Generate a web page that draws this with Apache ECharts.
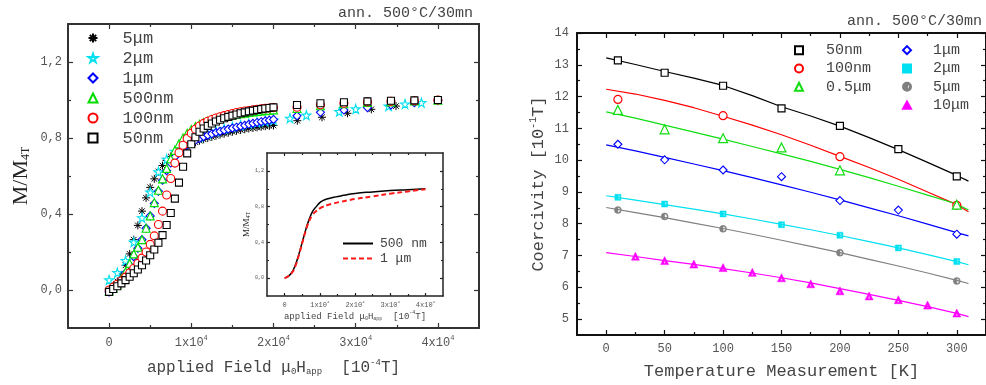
<!DOCTYPE html>
<html><head><meta charset="utf-8">
<script src="https://cdn.jsdelivr.net/npm/echarts@6/dist/echarts.min.js"></script>
<style>html,body{margin:0;padding:0;background:#fff}#c{width:986px;height:385px}</style>
</head><body><div id="c"></div>
<script>
// ================= LEFT PANEL: M/M4T vs applied field =================
const fieldDense = [0,500,1000,1500,2000,2500,3000,3500,4000,4500,5000,5500,6000,6500,7000,7500,8000,8500,9000,9500,10000,10500,11000,11500,12000,12500,13000,13500,14000,14500,15000,15500,16000,16500,17000,17500,18000,18500,19000,19500,20000];
const field1k = [0,1000,2000,3000,4000,5000,6000,7000,8000,9000,10000,11000,12000,13000,14000,15000,16000,17000,18000,19000,20000];
const fieldTail = [22860,25710,28570,31430,34290,37140,40000];
const field2umTail = [22000,24000,28000,30000,34000,36000,38000];
const field5umTail = [22900,25900,29000,31900,34900];

const m5um = [0.00,0.02,0.045,0.08,0.13,0.19,0.265,0.34,0.415,0.485,0.54,0.585,0.623,0.655,0.682,0.703,0.72,0.735,0.748,0.759,0.769,0.778,0.786,0.793,0.80,0.806,0.812,0.818,0.823,0.828,0.833,0.838,0.842,0.846,0.85,0.853,0.856,0.859,0.862,0.864,0.866];
const m5umTail = [0.891,0.909,0.93,0.951,0.968];
const m2um = [0.053,0.091,0.155,0.252,0.38,0.515,0.622,0.688,0.73,0.762,0.787,0.806,0.822,0.836,0.848,0.858,0.867,0.875,0.882,0.888,0.894];
const m2umTail = [0.904,0.92,0.939,0.953,0.968,0.979,0.986];
const m1um = [-0.01,0.005,0.025,0.055,0.09,0.13,0.175,0.22,0.265,0.325,0.39,0.455,0.52,0.578,0.628,0.668,0.70,0.725,0.745,0.762,0.776,0.788,0.798,0.807,0.815,0.822,0.829,0.835,0.841,0.847,0.852,0.857,0.862,0.867,0.872,0.877,0.882,0.886,0.89,0.894,0.898];
const m1umTail = [0.917,0.935,0.947,0.96,0.974,0.986,0.996];
const m500nm = [-0.005,0.01,0.03,0.06,0.095,0.14,0.19,0.225,0.265,0.325,0.39,0.46,0.525,0.585,0.64,0.69,0.735,0.77,0.80,0.825,0.845,0.86,0.872,0.882,0.89,0.897,0.903,0.908,0.913,0.917,0.921,0.925,0.928,0.931,0.934,0.937,0.94,0.942,0.944,0.946,0.948];
const m500nmTail = [0.955,0.97,0.98,0.987,0.99,0.995,0.999];
const m100nm = [0.0,0.015,0.03,0.048,0.068,0.09,0.113,0.14,0.168,0.20,0.24,0.285,0.345,0.415,0.50,0.587,0.668,0.722,0.762,0.797,0.825,0.846,0.863,0.877,0.888,0.897,0.905,0.912,0.918,0.924,0.929,0.934,0.938,0.942,0.945,0.948,0.951,0.954,0.956,0.958,0.96];
const m100nmTail = [0.962,0.975,0.983,0.99,0.993,0.996,1.0];
const m50nm = [-0.01,0.005,0.02,0.035,0.052,0.07,0.088,0.108,0.13,0.155,0.183,0.213,0.249,0.289,0.342,0.405,0.481,0.565,0.649,0.719,0.767,0.804,0.833,0.85,0.864,0.876,0.887,0.896,0.904,0.911,0.918,0.924,0.93,0.935,0.94,0.944,0.948,0.952,0.955,0.958,0.961];
const m50nmTail = [0.974,0.983,0.988,0.993,0.996,0.998,1.0];

// inset curves
const insetField = [0,1000,2000,3000,4000,5000,6000,7000,8000,9000,10000,11000,12000,14000,16000,18000,20000,25000,30000,35000,40000];
const inset500nm = [0,0.02,0.06,0.14,0.26,0.40,0.54,0.66,0.75,0.80,0.845,0.87,0.885,0.905,0.92,0.935,0.948,0.965,0.98,0.99,1.0];
const inset1um = [0,0.02,0.055,0.13,0.25,0.39,0.53,0.64,0.71,0.75,0.78,0.80,0.815,0.837,0.855,0.87,0.885,0.915,0.945,0.97,0.995];

// tick values
const fieldTicks = [0,10000,20000,30000,40000];
const fieldMinorTicks = [5000,15000,25000,35000];
const magTicks = [0,0.4,0.8,1.2];
const magMinorTicks = [0.2,0.6,1.0];

// ================= RIGHT PANEL: coercivity vs temperature =================
const tempA = [10,50,100,150,200,250,300];
const c50nm = [13.14,12.75,12.34,11.63,11.08,10.35,9.49];
const temp100nm = [10,100,200,300];
const c100nm = [11.91,11.40,10.11,8.58];
const temp05um = [10,50,100,150,200,300];
const c05um = [11.58,10.97,10.69,10.40,9.68,8.60];
const c1um = [10.50,10.01,9.69,9.48,8.73,8.43,7.67];
const c2um = [8.83,8.62,8.31,7.97,7.64,7.24,6.81];
const temp5um = [10,50,100,200,300];
const c5um = [8.43,8.23,7.84,7.09,6.20];
const temp10um = [25,50,75,100,125,150,175,200,225,250,275,300];
const c10um = [6.98,6.84,6.73,6.62,6.47,6.30,6.11,5.89,5.73,5.61,5.44,5.19];

const fitTemps = [0,25,50,75,100,125,150,175,200,225,250,275,300,310];
const fit50nm = [13.22,13.01,12.79,12.58,12.35,12.03,11.68,11.39,11.07,10.71,10.33,9.93,9.52,9.34];
const fit100nm = [12.23,12.08,11.88,11.65,11.38,11.10,10.80,10.47,10.12,9.77,9.40,9.00,8.60,8.38];
const fit05um = [11.52,11.32,11.10,10.88,10.66,10.43,10.20,9.96,9.71,9.45,9.18,8.90,8.62,8.43];
const fit1um = [10.48,10.29,10.09,9.88,9.67,9.45,9.22,8.99,8.75,8.50,8.25,7.99,7.72,7.62];
const fit2um = [8.88,8.74,8.60,8.46,8.31,8.15,7.98,7.81,7.63,7.44,7.24,7.03,6.81,6.71];
const fit5um = [8.51,8.35,8.19,8.02,7.85,7.67,7.48,7.29,7.09,6.88,6.67,6.45,6.22,6.12];
const fit10um = [7.09,6.97,6.84,6.72,6.59,6.45,6.30,6.14,5.96,5.78,5.59,5.39,5.18,5.08];

const tempTicks = [0,50,100,150,200,250,300];
const tempMinorTicks = [25,75,125,175,225,275];
const coerTicks = [5,6,7,8,9,10,11,12,13,14];
const coerMinorTicks = [5.5,6.5,7.5,8.5,9.5,10.5,11.5,12.5,13.5];

const annealNote = 'ann. 500°C/30mn';

// ================= build =================
const MONO = 'Liberation Mono';
const SERIF = 'Liberation Serif';
const zip = (xs, ys) => xs.map((x, i) => [x, ys[i]]);

const ASTER = 'path://M0,50 L100,50 M50,0 L50,100 M15,15 L85,85 M85,15 L15,85';
const STAR = 'path://M50,0 L61,35 L98,35 L68,57 L79,91 L50,70 L21,91 L32,57 L2,35 L39,35 Z';
const HALFSQ = 'path://M0,0 H100 V100 H0 Z M55,20 V80 H78 V20 Z';
const HALFCIRC = 'path://M50,0 A50,50 0 1,0 50,100 A50,50 0 1,0 50,0 Z M50,14 A36,36 0 0,1 50,86 Z';
const HOLLOWTRI = 'path://M50,0 L100,90 L0,90 Z M50,38 L38,76 L62,76 Z';

const xAxes = [], yAxes = [];
function addAxes(list, grid, posA, posB, min, max, major, minor, majLen, minLen, color, frameW, label, nameCfg) {
  const base = {type: 'value', gridIndex: grid, min: min, max: max, splitLine: {show: false}};
  const line = show => ({show: show, onZero: false, lineStyle: {color: color, width: frameW}});
  const tick = (vals, len) => ({show: true, inside: true, length: len, customValues: vals, lineStyle: {color: color, width: 1.2}});
  list.push(Object.assign({}, base, {position: posA, axisLine: line(true), axisTick: tick(major, majLen), axisLabel: Object.assign({show: true, customValues: major}, label)}, nameCfg || {}));
  list.push(Object.assign({}, base, {position: posA, axisLine: line(false), axisTick: tick(minor, minLen), axisLabel: {show: false}}));
  list.push(Object.assign({}, base, {position: posB, axisLine: line(true), axisTick: tick(major, majLen), axisLabel: {show: false}}));
  list.push(Object.assign({}, base, {position: posB, axisLine: line(false), axisTick: tick(minor, minLen), axisLabel: {show: false}}));
}

function fieldLabel(size, supSize) {
  return {
    margin: size > 9 ? 7 : 4,
    formatter: v => v === 0 ? '{a|0}' : '{a|' + (v / 1e4) + 'x10}{s|4}',
    rich: {
      a: {fontFamily: MONO, fontSize: size, color: '#555', lineHeight: size + 2, verticalAlign: 'bottom'},
      s: {fontFamily: MONO, fontSize: supSize, color: '#555', lineHeight: supSize, verticalAlign: 'top'}
    }
  };
}
function fieldName(size, subSize, gap) {
  const c = '#444';
  return {
    name: '{t|applied Field μ}{b|0}{t|H}{b|app}{t|  [10}{p|-4}{t|T]}',
    nameLocation: 'middle', nameGap: gap,
    nameTextStyle: {rich: {
      t: {fontFamily: MONO, fontSize: size, color: c, lineHeight: size + 2, verticalAlign: 'bottom'},
      b: {fontFamily: MONO, fontSize: subSize, color: c, lineHeight: subSize * 0.65, verticalAlign: 'bottom'},
      p: {fontFamily: MONO, fontSize: subSize, color: c, lineHeight: subSize * 0.65, verticalAlign: 'top'}
    }}
  };
}
function magName(size, subSize, gap) {
  return {
    name: '{m|M/M}{s|4T}', nameLocation: 'middle', nameGap: gap,
    nameTextStyle: {rich: {
      m: {fontFamily: SERIF, fontSize: size, color: '#222', lineHeight: size + 2, verticalAlign: 'bottom'},
      s: {fontFamily: SERIF, fontSize: subSize, color: '#222', lineHeight: subSize * 0.7, verticalAlign: 'bottom'}
    }}
  };
}
const magLabel = (size, margin) => ({margin: margin, fontFamily: MONO, fontSize: size, color: '#555', formatter: v => v.toFixed(1).replace('.', ',')});

// grid 0: main left
addAxes(xAxes, 0, 'bottom', 'top', -5000, 45000, fieldTicks, fieldMinorTicks, 5, 3, '#333', 2, fieldLabel(12, 7), fieldName(16, 9, 30));
addAxes(yAxes, 0, 'left', 'right', -0.2, 1.4, magTicks, magMinorTicks, 5, 3, '#333', 2, magLabel(12, 6), magName(22, 12, 36));
// grid 1: inset
addAxes(xAxes, 1, 'bottom', 'top', -5000, 45000, fieldTicks, fieldMinorTicks, 3, 2, '#222', 1.5, fieldLabel(7, 4), fieldName(9, 5, 12));
addAxes(yAxes, 1, 'left', 'right', -0.2, 1.4, magTicks, magMinorTicks, 3, 2, '#222', 1.5, magLabel(5, 3), magName(9, 6, 16));
// grid 2: right
addAxes(xAxes, 2, 'bottom', 'top', -25, 325, tempTicks, tempMinorTicks, 5, 3, '#111', 2,
  {margin: 8, fontFamily: MONO, fontSize: 12, color: '#555'},
  {name: 'Temperature Measurement [K]', nameLocation: 'middle', nameGap: 27,
   nameTextStyle: {fontFamily: MONO, fontSize: 17, color: '#444', lineHeight: 18}});
addAxes(yAxes, 2, 'left', 'right', 4.5, 14, coerTicks, coerMinorTicks, 5, 3, '#111', 2,
  {margin: 8, fontFamily: MONO, fontSize: 12, color: '#555'},
  {name: '{t|Coercivity [10}{p|-1}{t|T]}', nameLocation: 'middle', nameGap: 30,
   nameTextStyle: {rich: {
     t: {fontFamily: MONO, fontSize: 17, color: '#444', lineHeight: 19, verticalAlign: 'bottom'},
     p: {fontFamily: MONO, fontSize: 10, color: '#444', lineHeight: 7, verticalAlign: 'top'}
   }}});

const series = [];
function leftScatter(name, data, symbol, size, fill, border, bw) {
  series.push({name: name, type: 'scatter', xAxisIndex: 0, yAxisIndex: 0, data: data, symbol: symbol, symbolSize: size,
    itemStyle: {color: fill, borderColor: border, borderWidth: bw, opacity: 1}, silent: true});
}
leftScatter('5μm', zip(fieldDense, m5um).concat(zip(field5umTail, m5umTail)), ASTER, 8, 'rgba(0,0,0,0)', '#000', 1);
leftScatter('2μm', zip(field1k, m2um).concat(zip(field2umTail, m2umTail)), STAR, 9, '#fff', '#00e0f0', 1.1);
leftScatter('1μm', zip(fieldDense, m1um).concat(zip(fieldTail, m1umTail)), 'diamond', 8, '#fff', '#0000ff', 1.1);
leftScatter('500nm', zip(fieldDense, m500nm).concat(zip(fieldTail, m500nmTail)), 'triangle', 8, '#fff', '#00dd00', 1.1);
leftScatter('100nm', zip(fieldDense, m100nm).concat(zip(fieldTail, m100nmTail)), 'circle', 8, '#fff', '#ff0000', 1.1);
leftScatter('50nm', zip(fieldDense, m50nm).concat(zip(fieldTail, m50nmTail)), 'rect', 7, '#fff', '#000', 1.1);

series.push({name: '500 nm', type: 'line', xAxisIndex: 4, yAxisIndex: 4, data: zip(insetField, inset500nm), smooth: true, symbol: 'none', showSymbol: false,
  lineStyle: {color: '#000', width: 1.5}, itemStyle: {color: '#000'}, silent: true});
series.push({name: '1 μm', type: 'line', xAxisIndex: 4, yAxisIndex: 4, data: zip(insetField, inset1um), smooth: true, symbol: 'none', showSymbol: false,
  lineStyle: {color: '#ff1a1a', width: 2, type: [5, 3]}, itemStyle: {color: '#ff1a1a'}, silent: true});

function fitLine(name, ys, color) {
  series.push({name: name, type: 'line', xAxisIndex: 8, yAxisIndex: 8, data: zip(fitTemps, ys), symbol: 'none', showSymbol: false,
    lineStyle: {color: color, width: 1.2}, silent: true, z: 1});
}
fitLine('fit 50nm', fit50nm, '#000');
fitLine('fit 100nm', fit100nm, '#ff0000');
fitLine('fit 0.5μm', fit05um, '#11dd11');
fitLine('fit 1μm', fit1um, '#0000ff');
fitLine('fit 2μm', fit2um, '#00e0f0');
fitLine('fit 5μm', fit5um, '#808080');
fitLine('fit 10μm', fit10um, '#ff00ff');

function rightScatter(name, data, symbol, size, fill, border, bw) {
  series.push({name: name, type: 'scatter', xAxisIndex: 8, yAxisIndex: 8, data: data, symbol: symbol, symbolSize: size,
    itemStyle: {color: fill, borderColor: border, borderWidth: bw, opacity: 1}, silent: true, z: 3});
}
rightScatter('R 50nm', zip(tempA, c50nm), 'rect', 7, '#fff', '#000', 1.2);
rightScatter('R 100nm', zip(temp100nm, c100nm), 'circle', 8, '#fff', '#ff0000', 1.2);
rightScatter('R 0.5μm', zip(temp05um, c05um), 'triangle', 9, '#fff', '#11dd11', 1.2);
rightScatter('R 1μm', zip(tempA, c1um), 'diamond', 8, '#fff', '#0000ff', 1.1);
rightScatter('R 2μm', zip(tempA, c2um), HALFSQ, 6, '#00e0f0', '#00e0f0', 0.5);
rightScatter('R 5μm', zip(temp5um, c5um), HALFCIRC, 7, '#808080', '#808080', 0.5);
rightScatter('R 10μm', zip(temp10um, c10um), HOLLOWTRI, 8, '#ff00ff', '#ff00ff', 0.5);

const stripR = n => n.replace(/^R /, '');
const option = {
  animation: false,
  backgroundColor: '#fff',
  grid: [
    {left: 68, top: 24, width: 411, height: 304, show: false},
    {left: 267, top: 153, width: 176, height: 143, show: true, borderWidth: 0, backgroundColor: '#fff'},
    {left: 577, top: 33, width: 410, height: 303, show: false}
  ],
  xAxis: xAxes,
  yAxis: yAxes,
  legend: [
    {data: ['5μm', '2μm', '1μm', '500nm', '100nm', '50nm'], orient: 'vertical', left: 87.5, top: 28, padding: 0, itemGap: 0,
     itemWidth: 9, itemHeight: 9, selectedMode: false,
     textStyle: {fontFamily: MONO, fontSize: 17, color: '#444', lineHeight: 20, padding: [0, 0, 0, 20]}},
    {data: ['500 nm', '1 μm'], orient: 'vertical', left: 342, top: 236, padding: 0, itemGap: 0,
     itemWidth: 30, itemHeight: 10, selectedMode: false, itemStyle: {opacity: 0},
     textStyle: {fontFamily: MONO, fontSize: 13, color: '#444', lineHeight: 15, padding: [0, 0, 0, 2]}},
    {data: ['R 50nm', 'R 100nm', 'R 0.5μm'], orient: 'vertical', left: 794, top: 41, padding: 0, itemGap: 0,
     itemWidth: 8, itemHeight: 8, selectedMode: false, formatter: stripR,
     textStyle: {fontFamily: MONO, fontSize: 15, color: '#444', lineHeight: 18.3, padding: [0, 0, 0, 18]}},
    {data: ['R 1μm', 'R 2μm', 'R 5μm', 'R 10μm'], orient: 'vertical', left: 902, top: 41, padding: 0, itemGap: 0,
     itemWidth: 8, itemHeight: 8, selectedMode: false, formatter: stripR,
     textStyle: {fontFamily: MONO, fontSize: 15, color: '#444', lineHeight: 18.3, padding: [0, 0, 0, 17]}}
  ],
  graphic: [
    {type: 'text', right: 513, top: 6, style: {text: annealNote, font: '15px "Liberation Mono"', fill: '#444'}},
    {type: 'text', right: 4, top: 14, style: {text: annealNote, font: '15px "Liberation Mono"', fill: '#444'}}
  ],
  series: series
};
const chart = echarts.init(document.getElementById('c'), null, {renderer: 'canvas', width: 986, height: 385});
chart.setOption(option);
</script>
</body></html>
